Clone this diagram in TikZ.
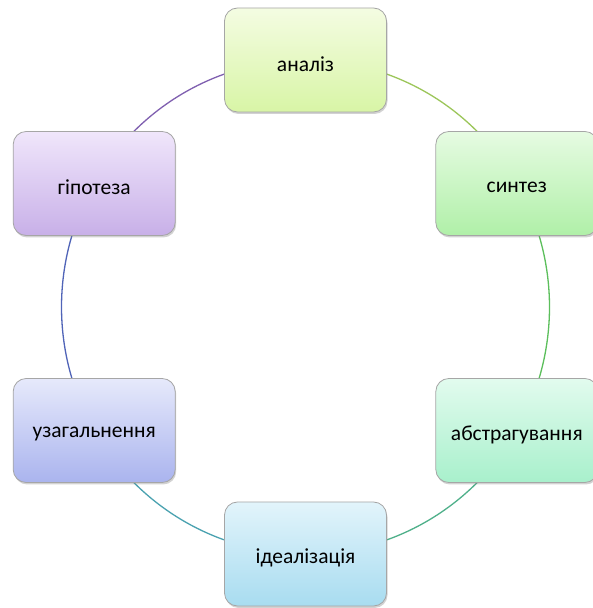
\documentclass[tikz,border=0pt]{standalone}
\usepackage{fontspec}
\setmainfont{Carlito}
\usetikzlibrary{shadows}
\definecolor{arcA}{HTML}{9CC65A}
\definecolor{arcB}{HTML}{5CBF5C}
\definecolor{arcC}{HTML}{4FB08A}
\definecolor{arcD}{HTML}{4AA2B0}
\definecolor{arcE}{HTML}{5064B8}
\definecolor{arcF}{HTML}{8060B0}
\definecolor{boxline}{HTML}{A6A6A6}
\newcommand{\boxtext}[1]{\raisebox{-4pt}[\height][\depth]{#1}}
\tikzset{
  stepbox/.style={draw=boxline, line width=0.8pt, rounded corners=13pt,
    minimum width=162pt, minimum height=104pt, inner sep=0pt,
    font=\fontsize{21.5}{25}\selectfont, text=black,
    drop shadow={opacity=0.35, shadow xshift=1pt, shadow yshift=-2pt, fill=gray}},
  link/.style={line width=1.3pt}
}
\begin{document}
\begin{tikzpicture}[x=1pt,y=1pt]
\useasboundingbox (0,0) rectangle (592,608);
\fill[white] (0,0) rectangle (592,608);
\def\cx{305.5}\def\cy{301}\def\rx{244}\def\ry{247}
\coordinate (c) at (\cx,\cy);
% node positions
\path (c) ++(90:\rx pt and \ry pt) coordinate (pa);
\path (c) ++(30:\rx pt and \ry pt) coordinate (pb);
\path (c) ++(-30:\rx pt and \ry pt) coordinate (pc);
\path (c) ++(-90:\rx pt and \ry pt) coordinate (pd);
\path (c) ++(-150:\rx pt and \ry pt) coordinate (pe);
\path (c) ++(150:\rx pt and \ry pt) coordinate (pf);
% arcs
\draw[link, arcA] (pa) arc[start angle=90, end angle=30, x radius=\rx, y radius=\ry];
\draw[link, arcB] (pb) arc[start angle=30, end angle=-30, x radius=\rx, y radius=\ry];
\draw[link, arcC] (pc) arc[start angle=-30, end angle=-90, x radius=\rx, y radius=\ry];
\draw[link, arcD] (pd) arc[start angle=-90, end angle=-150, x radius=\rx, y radius=\ry];
\draw[link, arcE] (pe) arc[start angle=-150, end angle=-210, x radius=\rx, y radius=\ry];
\draw[link, arcF] (pf) arc[start angle=150, end angle=90, x radius=\rx, y radius=\ry];
% boxes
\node[stepbox, top color={rgb,255:red,244;green,252;blue,226}, bottom color={rgb,255:red,216;green,245;blue,166}] (a) at (pa) {\boxtext{аналіз}};
\node[stepbox, top color={rgb,255:red,230;green,251;blue,226}, bottom color={rgb,255:red,176;green,240;blue,168}] (b) at (pb) {\boxtext{синтез}};
\node[stepbox, top color={rgb,255:red,226;green,251;blue,238}, bottom color={rgb,255:red,168;green,240;blue,204}] (cc) at (pc) {\boxtext{абстрагування}};
\node[stepbox, top color={rgb,255:red,226;green,244;blue,251}, bottom color={rgb,255:red,168;green,220;blue,240}] (d) at (pd) {\boxtext{ідеалізація}};
\node[stepbox, top color={rgb,255:red,230;green,233;blue,251}, bottom color={rgb,255:red,170;green,180;blue,238}] (e) at (pe) {\boxtext{узагальнення}};
\node[stepbox, top color={rgb,255:red,240;green,230;blue,251}, bottom color={rgb,255:red,200;green,176;blue,232}] (f) at (pf) {\boxtext{гіпотеза}};
\end{tikzpicture}
\end{document}
